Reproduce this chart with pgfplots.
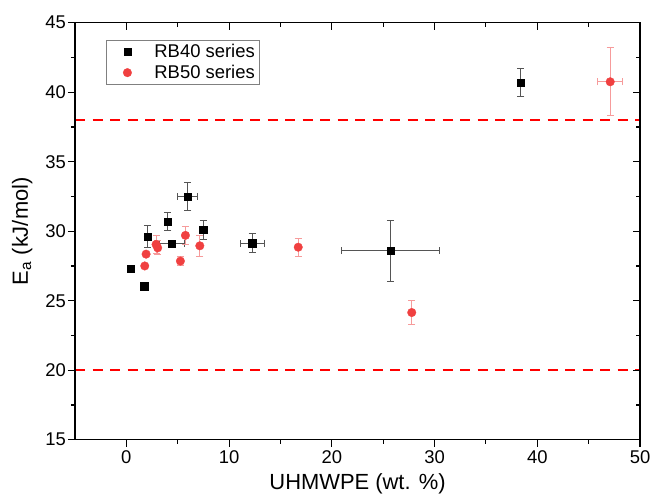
\documentclass[border=0pt]{standalone}
\usepackage{pgfplots}
\pgfplotsset{compat=1.18}
\usepackage{fontspec}
\setmainfont{Liberation Sans}
\definecolor{myred}{RGB}{240,64,64}
\definecolor{ebred}{RGB}{246,155,155}
\definecolor{ebgray}{RGB}{85,85,85}

\pgfplotstableread{
x y ex ey
0.42 27.3 0 0
1.75 26.05 0 0
2.05 29.6 0 0.8
4.03 30.7 0 0.68
4.42 29.1 1.2 0
5.98 32.5 0.97 1.0
7.47 30.1 0 0.7
12.25 29.15 1.15 0.7
25.7 28.6 4.75 2.2
38.4 40.7 0 1.0
}\rbforty

\pgfplotstableread{
x y ex ey
1.79 27.5 0 0
1.92 28.35 0 0
2.89 29.05 0 0.65
3.05 28.8 0 0.5
5.26 27.85 0 0.3
5.75 29.7 0 0.67
7.15 28.95 0 0.77
16.73 28.85 0 0.65
27.78 24.15 0 0.88
47.1 40.75 1.2 2.45
}\rbfifty

\begin{document}
\begin{tikzpicture}
\pgfplotsset{
  common/.style={
    scale only axis, width=565bp, height=417bp,
    xmin=-5, xmax=50, ymin=15, ymax=45,
    xtick={0,10,...,50}, ytick={15,20,...,45},
    minor x tick num=1, minor y tick num=1,
    major tick length=7bp, minor tick length=4bp,
    axis line style={line width=1.2bp, black},
    every tick/.style={black, line width=1.1bp},
  }
}
\begin{axis}[name=ax, common,
  xtick pos=bottom, ytick pos=left, tick align=outside,
  /pgf/number format/assume math mode=true,
  tick label style={font=\fontsize{18.5}{21}\selectfont},
  yticklabel style={xshift=1.5bp},
  xlabel={UHMWPE (wt. \%)},
  ylabel={E\textsubscript{a} (kJ/mol)},
  label style={font=\fontsize{22}{26}\selectfont},
  xlabel style={at={(axis description cs:0.5,0)}, anchor=base, yshift=-50bp},
  ylabel style={at={(axis description cs:-0.0832,0.5)}, anchor=base},
  legend style={at={(0.0549,0.9585)}, anchor=north west, draw=gray, line width=0.8bp,
    font=\fontsize{18.5}{22}\selectfont, row sep=2bp},
  legend cell align=left,
  legend image code/.code={\path[draw=none,fill=none] (-18bp,0) -- (25bp,0); \draw[#1] plot coordinates {(0bp,0bp)};},
]
% reference lines
\addplot[red, line width=2bp, dash pattern=on 10bp off 7.5bp, forget plot] coordinates {(-5,38) (50,38)};
\addplot[red, line width=2bp, dash pattern=on 10bp off 7.5bp, forget plot] coordinates {(-5,20) (50,20)};
% error bars
\addplot[draw=none, mark=none, forget plot,
  error bars/.cd, x dir=both, y dir=both, x explicit, y explicit,
  error bar style={draw=ebgray, line width=1bp},
  error mark=-,
  error mark options={rotate=90, draw=ebgray, mark size=3.5bp, line width=1bp}]
  table[x=x, y=y, x error=ex, y error=ey] {\rbforty};
\addplot[draw=none, mark=none, forget plot,
  error bars/.cd, x dir=both, y dir=both, x explicit, y explicit,
  error bar style={draw=ebred, line width=1bp},
  error mark=-,
  error mark options={rotate=90, draw=ebred, mark size=3.5bp, line width=1bp}]
  table[x=x, y=y, x error=ex, y error=ey] {\rbfifty};
% markers
\addplot[only marks, mark=square*, mark size=3.7bp, mark options={fill=black, draw=black, line width=0.3bp}]
  table[x=x, y=y] {\rbforty};
\addlegendentry{RB40 series}
\addplot[only marks, mark=*, mark size=4.3bp, mark options={fill=myred, draw=myred, line width=0.3bp}]
  table[x=x, y=y] {\rbfifty};
\addlegendentry{RB50 series}
\end{axis}
\begin{axis}[common, at={(ax.south west)}, anchor=south west,
  xtick pos=top, ytick pos=right, tick align=inside,
  xticklabels={}, yticklabels={}]
\end{axis}
\pgfresetboundingbox
\path[use as bounding box] ([shift={(-75bp,-56bp)}]ax.south west) rectangle ([shift={(11bp,22.7bp)}]ax.north east);
\end{tikzpicture}
\end{document}
